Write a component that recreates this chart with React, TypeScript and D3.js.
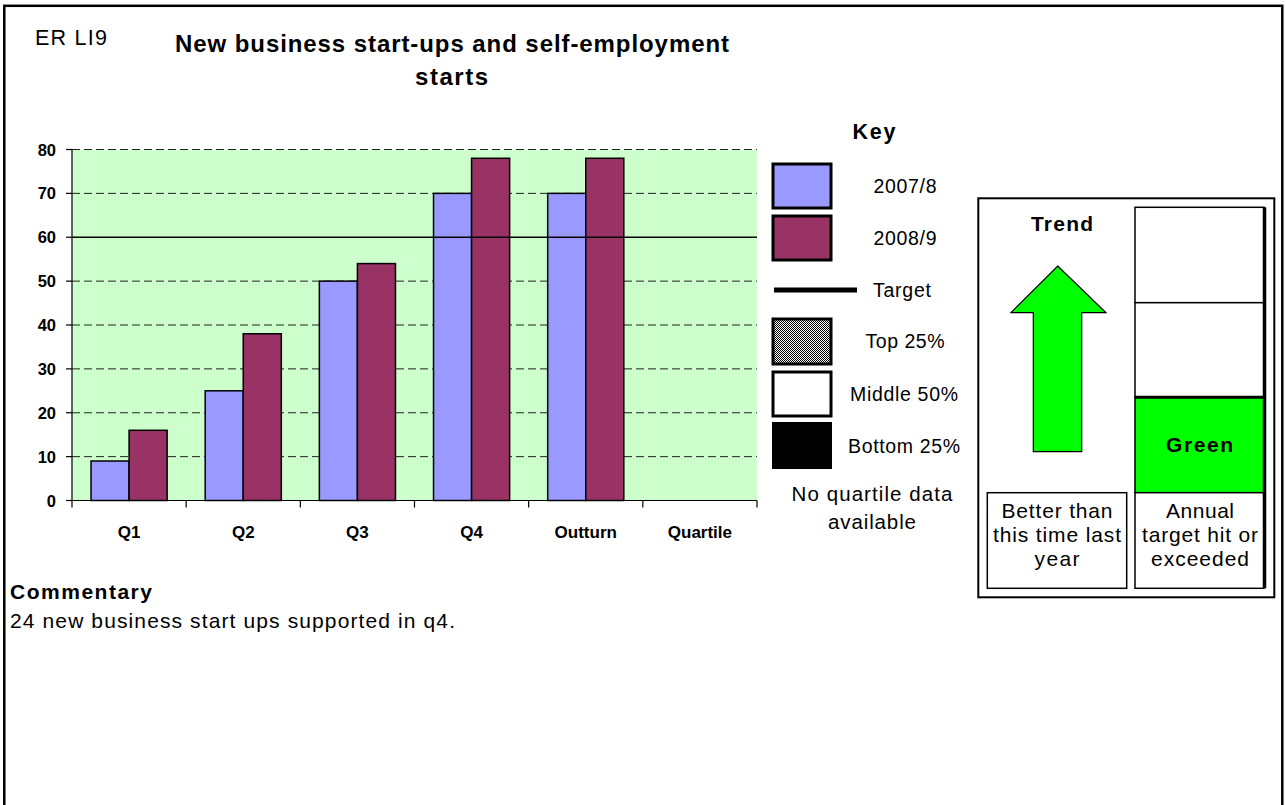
import React from "react";
import * as d3 from "d3";

// Quarterly counts of new business start-ups and self-employment starts
const categories = ["Q1", "Q2", "Q3", "Q4", "Outturn", "Quartile"];
const series0708: (number | null)[] = [9, 25, 50, 70, 70, null];
const series0809: (number | null)[] = [16, 38, 54, 78, 78, null];
const seriesNames = ["2007/8", "2008/9"];
const seriesColors = ["#9999FF", "#993366"];
const targetValue = 60;
const yTickValues = [0, 10, 20, 30, 40, 50, 60, 70, 80];

const FONT = "'Liberation Sans', Arial, Helvetica, sans-serif";

type TProps = {
  x: number;
  y: number;
  children: React.ReactNode;
  size?: number;
  bold?: boolean;
  anchor?: "start" | "middle" | "end";
  len?: number;
};

function T({ x, y, children, size = 16, bold = false, anchor = "start", len }: TProps) {
  return (
    <text
      x={x}
      y={y}
      fontFamily={FONT}
      fontSize={size}
      fontWeight={bold ? "bold" : "normal"}
      textAnchor={anchor}
      fill="#000"
      {...(len ? { textLength: len, lengthAdjust: "spacing" } : {})}
    >
      {children}
    </text>
  );
}

export default function App() {
  const plot = { left: 72, right: 757, top: 149.5, bottom: 500.5 };

  const x = d3.scaleBand<string>().domain(categories).range([plot.left, plot.right]).padding(0);
  const bw = x.bandwidth();
  const xs = d3
    .scaleBand<string>()
    .domain(seriesNames)
    .range([bw / 6, (bw * 5) / 6])
    .padding(0);
  const y = d3.scaleLinear().domain([0, 80]).range([plot.bottom, plot.top]);

  const allSeries = [series0708, series0809];
  const tickEdges = [...categories.map((c) => x(c)!), plot.right];

  // legend swatch geometry
  const swX = 773;
  const swW = 58;

  return (
    <svg
      width={1286}
      height={805}
      style={{ position: "absolute", left: 0, top: 0, display: "block", background: "#fff" }}
    >
      <defs>
        <pattern id="dither" width={2} height={2} patternUnits="userSpaceOnUse">
          <rect width={2} height={2} fill="#fff" />
          <rect x={0} y={0} width={1} height={1} fill="#000" />
          <rect x={1} y={1} width={1} height={1} fill="#000" />
        </pattern>
      </defs>

      {/* page frame */}
      <rect x={4.3} y={5.8} width={1278} height={900} fill="none" stroke="#000" strokeWidth={2.5} />

      {/* heading */}
      <T x={35} y={45} size={21.5} len={72}>ER LI9</T>
      <T x={452} y={52} size={24} bold anchor="middle" len={554}>
        New business start-ups and self-employment
      </T>
      <T x={451.5} y={85} size={24} bold anchor="middle" len={73}>starts</T>

      {/* plot background */}
      <rect
        x={plot.left}
        y={plot.top}
        width={plot.right - plot.left}
        height={plot.bottom - plot.top}
        fill="#CCFFCC"
      />

      {/* gridlines */}
      {yTickValues
        .filter((v) => v > 0 && v !== targetValue)
        .map((v) => (
          <line
            key={"g" + v}
            x1={plot.left}
            x2={plot.right}
            y1={y(v)}
            y2={y(v)}
            stroke="#222"
            strokeWidth={1}
            strokeDasharray="8,4"
          />
        ))}

      {/* bars */}
      {allSeries.map((vals, si) =>
        vals.map((v, i) =>
          v == null ? null : (
            <rect
              key={`b${si}-${i}`}
              x={x(categories[i])! + xs(seriesNames[si])!}
              y={y(v)}
              width={xs.bandwidth()}
              height={y(0) - y(v)}
              fill={seriesColors[si]}
              stroke="#000"
              strokeWidth={1.5}
            />
          )
        )
      )}

      {/* target line */}
      <line
        x1={plot.left}
        x2={plot.right}
        y1={y(targetValue)}
        y2={y(targetValue)}
        stroke="#000"
        strokeWidth={1.5}
      />

      {/* y axis */}
      <line x1={plot.left} x2={plot.left} y1={plot.top} y2={plot.bottom} stroke="#000" strokeWidth={1.2} />
      {yTickValues.map((v) => (
        <g key={"yt" + v}>
          <line x1={plot.left - 6} x2={plot.left} y1={y(v)} y2={y(v)} stroke="#000" strokeWidth={1.2} />
          <T x={56} y={y(v) + 6} size={16.5} bold anchor="end">
            {String(v)}
          </T>
        </g>
      ))}

      {/* x axis */}
      <line x1={plot.left} x2={plot.right} y1={plot.bottom} y2={plot.bottom} stroke="#000" strokeWidth={1.2} />
      {tickEdges.map((tx, i) => (
        <line key={"xt" + i} x1={tx} x2={tx} y1={plot.bottom} y2={plot.bottom + 7} stroke="#000" strokeWidth={1.2} />
      ))}
      {categories.map((c) => (
        <T key={"xl" + c} x={x(c)! + bw / 2} y={538} size={17} bold anchor="middle">
          {c}
        </T>
      ))}

      {/* key */}
      <T x={874} y={139} size={21.5} bold anchor="middle" len={43}>Key</T>
      <rect x={swX} y={164} width={swW} height={44} fill={seriesColors[0]} stroke="#000" strokeWidth={3} />
      <T x={905} y={193} size={19.5} anchor="middle" len={63}>{seriesNames[0]}</T>
      <rect x={swX} y={216} width={swW} height={44} fill={seriesColors[1]} stroke="#000" strokeWidth={3} />
      <T x={905} y={245} size={19.5} anchor="middle" len={63}>{seriesNames[1]}</T>
      <line x1={774} x2={857} y1={290} y2={290} stroke="#000" strokeWidth={5} />
      <T x={873} y={297} size={19.5} len={58}>Target</T>
      <rect x={swX} y={319} width={swW} height={45} fill="url(#dither)" stroke="#000" strokeWidth={3} />
      <T x={905} y={348} size={19.5} anchor="middle" len={79}>Top 25%</T>
      <rect x={swX} y={372} width={swW} height={44} fill="#fff" stroke="#000" strokeWidth={3} />
      <T x={904} y={401} size={19.5} anchor="middle" len={108}>Middle 50%</T>
      <rect x={swX} y={423} width={swW} height={45} fill="#000" stroke="#000" strokeWidth={2} />
      <T x={904} y={453} size={19.5} anchor="middle" len={112}>Bottom 25%</T>
      <T x={872} y={501} size={20.5} anchor="middle" len={161}>No quartile data</T>
      <T x={872} y={529} size={20.5} anchor="middle" len={88}>available</T>

      {/* trend panel */}
      <rect x={978.3} y={198.3} width={296} height={399} fill="#fff" stroke="#000" strokeWidth={2} />
      <T x={1062} y={231} size={21} bold anchor="middle" len={62}>Trend</T>
      <path
        d="M1057.7,266 L1106,312.7 L1081.7,312.7 L1081.7,451.7 L1033.3,451.7 L1033.3,312.7 L1011,312.7 Z"
        fill="#00FF00"
        stroke="#000"
        strokeWidth={1.2}
      />
      <rect x={987.3} y={492.7} width={139.4} height={95.6} fill="#fff" stroke="#000" strokeWidth={1.5} />
      <T x={1057} y={518} size={21} anchor="middle" len={111}>Better than</T>
      <T x={1057} y={542} size={21} anchor="middle" len={128}>this time last</T>
      <T x={1057} y={566} size={21} anchor="middle" len={45}>year</T>

      {/* annual target status column */}
      <rect x={1135} y={207.3} width={129} height={95.4} fill="#fff" stroke="#000" strokeWidth={1.5} />
      <rect x={1135} y={302.7} width={129} height={94.6} fill="#fff" stroke="#000" strokeWidth={1.5} />
      <rect x={1135} y={397.3} width={129} height={95.4} fill="#00FF00" stroke="#000" strokeWidth={1.5} />
      <line x1={1135} x2={1264} y1={397.3} y2={397.3} stroke="#000" strokeWidth={3} />
      <T x={1199.5} y={452} size={21} bold anchor="middle" len={67}>Green</T>
      <rect x={1135} y={492.7} width={129} height={95.6} fill="#fff" stroke="#000" strokeWidth={1.5} />
      <line x1={1264.5} x2={1264.5} y1={207.3} y2={588.3} stroke="#000" strokeWidth={3.5} />
      <T x={1200} y={518} size={21} anchor="middle" len={68}>Annual</T>
      <T x={1200} y={542} size={21} anchor="middle" len={116}>target hit or</T>
      <T x={1200} y={566} size={21} anchor="middle" len={98}>exceeded</T>

      {/* commentary */}
      <T x={10} y={599} size={21} bold len={142}>Commentary</T>
      <T x={10} y={628} size={21} len={445}>24 new business start ups supported in q4.</T>
    </svg>
  );
}
